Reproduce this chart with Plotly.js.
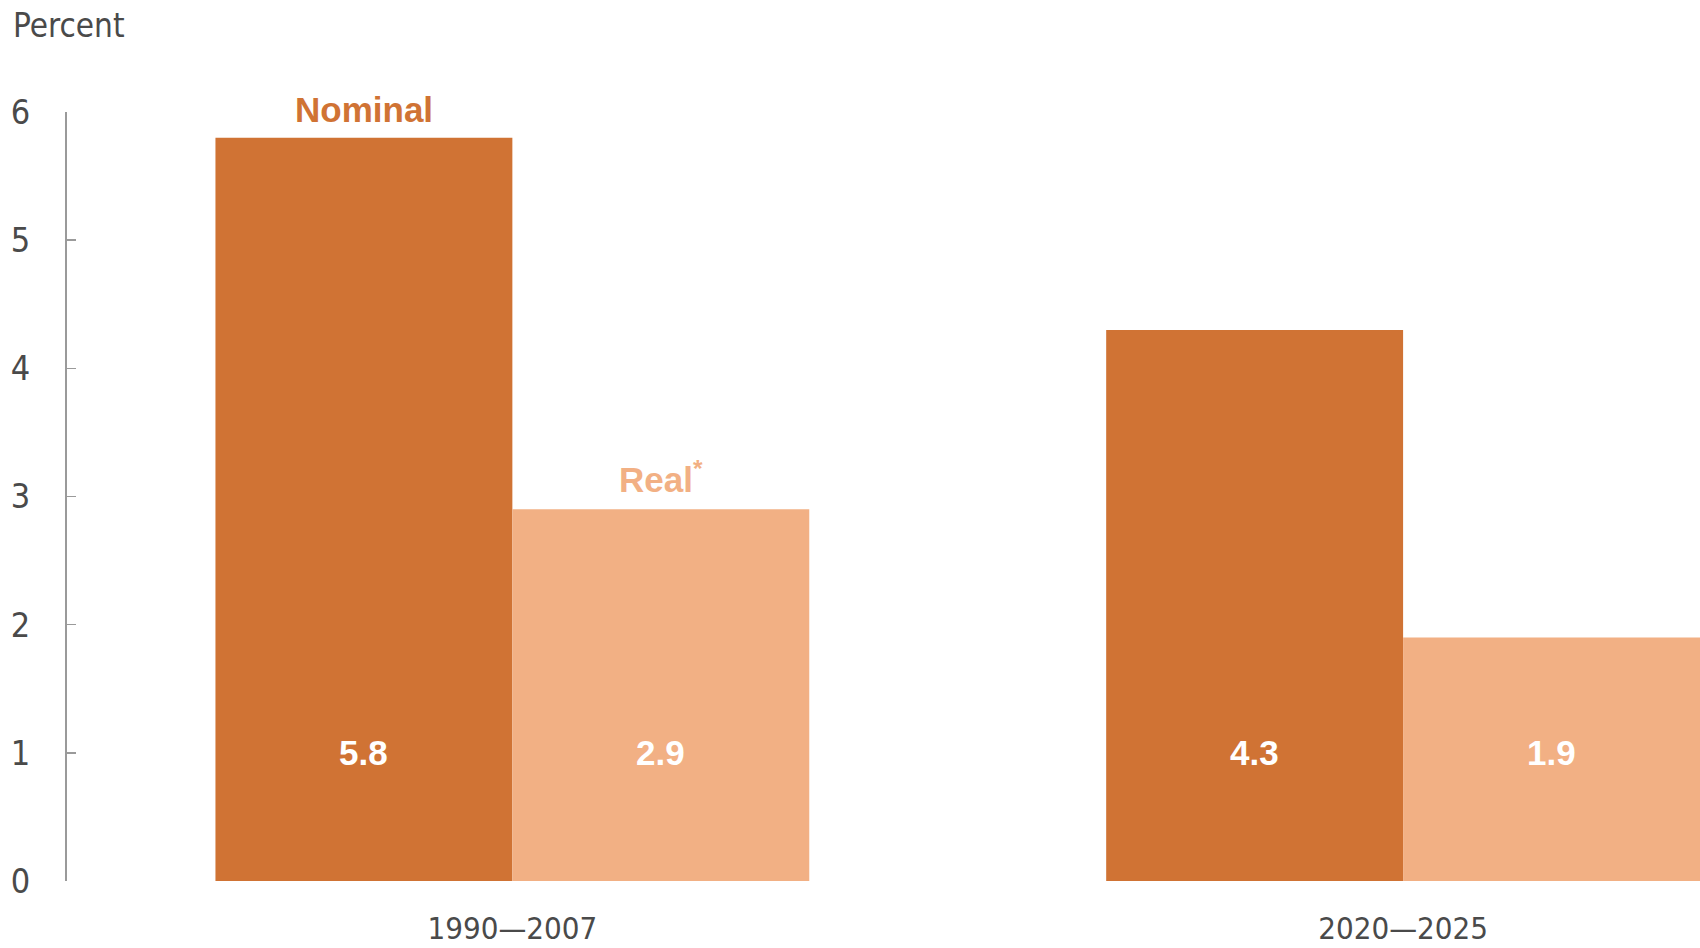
<!DOCTYPE html>
<html><head><meta charset="utf-8">
<script src="https://cdn.plot.ly/plotly-3.0.1.min.js"></script>
<style>html,body{margin:0;padding:0;background:#fff}#chart{width:1700px;height:948px}</style>
</head><body><div id="chart"></div>
<script>
// ---- data ----
const categories = ['1990\u20142007', '2020\u20142025'];
const nominal = [5.8, 4.3];
const real = [2.9, 1.9];
const seriesNames = ['Nominal', 'Real<sup>*</sup>'];
const yTicks = [0, 1, 2, 3, 4, 5, 6];
const yAxisLabel = 'Percent';
const valueLabelY = 1;

// ---- style ----
const cNom = '#D07334';
const cReal = '#F2B084';
const thinFont = '"Liberation Sans Narrow", "DejaVu Sans Condensed", sans-serif';
const boldFont = '"Liberation Sans", Arial, sans-serif';
const bargap = 1/3;
const half = (1 - bargap) / 4;
const xIdx = categories.map((c, i) => i);

const traces = [
  {type: 'bar', x: xIdx, y: nominal, name: 'Nominal', marker: {color: cNom, line: {width: 0}}, hoverinfo: 'y'},
  {type: 'bar', x: xIdx, y: real, name: 'Real', marker: {color: cReal, line: {width: 0}}, hoverinfo: 'y'}
];

const annotations = [];
xIdx.forEach(i => {
  annotations.push({x: i - half, y: valueLabelY, xref: 'x', yref: 'y', text: nominal[i].toFixed(1),
    showarrow: false, font: {family: boldFont, size: 35, color: '#ffffff', weight: 700}});
  annotations.push({x: i + half, y: valueLabelY, xref: 'x', yref: 'y', text: real[i].toFixed(1),
    showarrow: false, font: {family: boldFont, size: 35, color: '#ffffff', weight: 700}});
});
annotations.push({x: 0 - half, y: nominal[0], xref: 'x', yref: 'y', text: seriesNames[0],
  showarrow: false, yanchor: 'middle', yshift: 28, font: {family: boldFont, size: 35, color: cNom, weight: 700}});
annotations.push({x: 0 + half, y: real[0], xref: 'x', yref: 'y', text: seriesNames[1],
  showarrow: false, yanchor: 'middle', yshift: 32, font: {family: boldFont, size: 35, color: cReal, weight: 700}});

const layout = {
  width: 1700, height: 948,
  margin: {l: 67, r: 0, t: 112, b: 67, pad: 0},
  paper_bgcolor: '#ffffff', plot_bgcolor: '#ffffff',
  barmode: 'group', bargap: bargap, bargroupgap: 0,
  showlegend: false,
  title: {text: yAxisLabel, xref: 'container', yref: 'container', x: 13/1700, xanchor: 'left',
    y: 1 - 25/948, yanchor: 'middle', font: {family: thinFont, size: 33, color: '#4a4a4a'}},
  xaxis: {
    range: [-0.5, (xIdx.length - 1) + 2*half],
    tickvals: xIdx, ticktext: categories, showline: false, showgrid: false, zeroline: false,
    ticks: '', tickfont: {family: thinFont, size: 31, color: '#4a4a4a'}, ticklabelstandoff: 26,
    fixedrange: true
  },
  yaxis: {
    range: [0, 6], tickvals: yTicks, showline: true, linecolor: '#9a9a9a', linewidth: 2,
    ticks: 'inside', ticklen: 9, tickcolor: '#9a9a9a', tickwidth: 1.5,
    showgrid: false, zeroline: false,
    tickfont: {family: thinFont, size: 34, color: '#4a4a4a'}, ticklabelstandoff: 28,
    fixedrange: true
  },
  annotations: annotations
};

Plotly.newPlot('chart', traces, layout, {displayModeBar: false, staticPlot: true});
</script>
</body></html>
